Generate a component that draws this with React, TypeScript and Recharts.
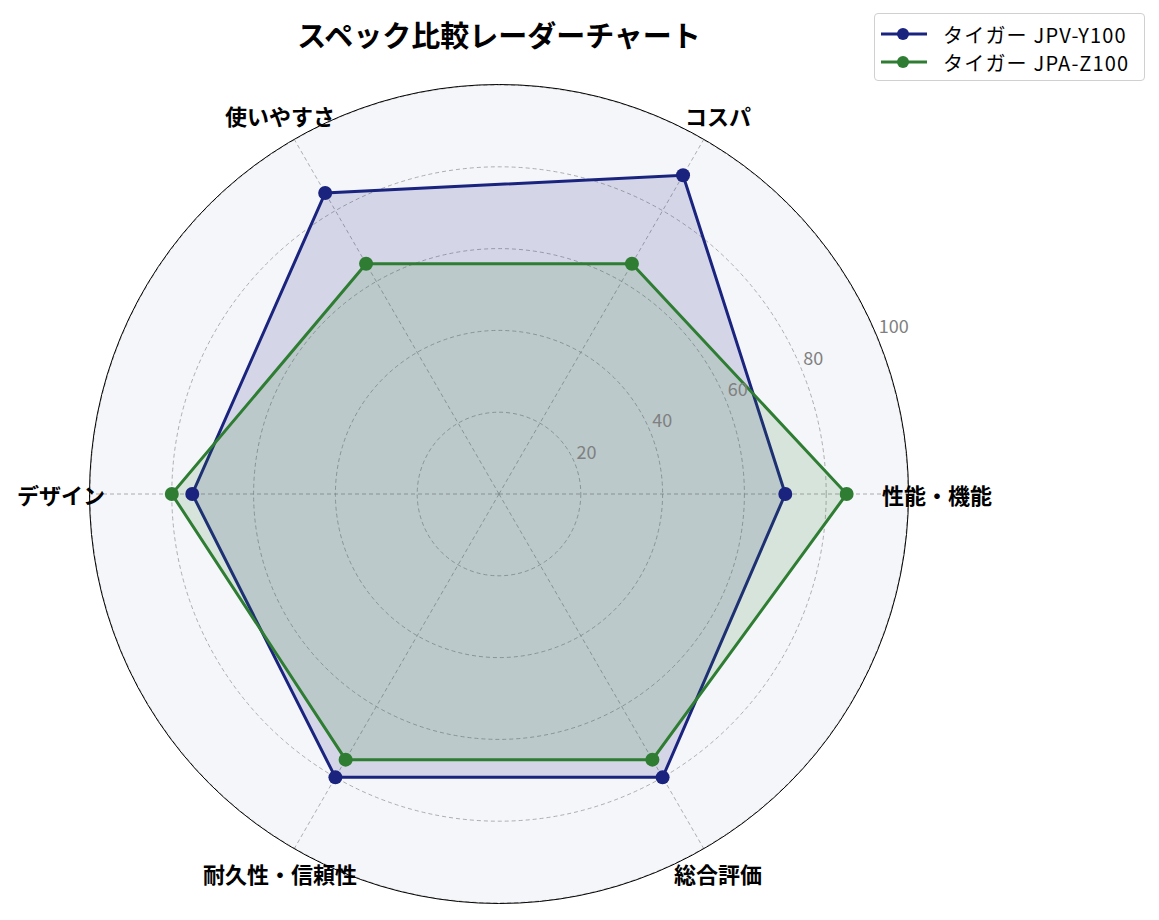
import React from 'react';
import { RadarChart, Radar, PolarGrid, PolarAngleAxis, PolarRadiusAxis, Legend } from 'recharts';

const categories = ['性能・機能', 'コスパ', '使いやすさ', 'デザイン', '耐久性・信頼性', '総合評価'];
const seriesNames = ['タイガー JPV-Y100', 'タイガー JPA-Z100'];
const seriesColors = ['#1a237e', '#2e7d32'];
const jpvValues = [70, 90, 85, 75, 80, 80];
const jpaValues = [85, 65, 65, 80, 75, 75];
const radiusTicks = [0, 20, 40, 60, 80, 100];

// counter-clockwise from the right: walk the list clockwise instead
const drawOrder = [0, 5, 4, 3, 2, 1];
const data = drawOrder.map((i) => ({
  subject: categories[i],
  jpv: jpvValues[i],
  jpa: jpaValues[i],
}));

const W = 1159;
const H = 920;
const CX = 499;
const CY = 494;
const R = 409;
const FONT = '"Noto Sans CJK JP", "Noto Sans", sans-serif';

const AngleTick = (props: any) => {
  const { x, y, payload } = props;
  return (
    <text x={x} y={y} textAnchor="middle" dominantBaseline="central" fontSize={22} fontWeight={700} fill="#000" fontFamily={FONT}>
      {payload.value}
    </text>
  );
};

const RadiusTick = (props: any) => {
  const { x, y, payload } = props;
  if (payload.value === 0) return null;
  return (
    <text x={x + 2} y={y - 4} textAnchor="start" fontSize={18} fill="#808080" fontFamily={FONT}>
      {payload.value}
    </text>
  );
};

const LegendBox = () => (
  <div
    style={{
      width: 271,
      height: 68,
      boxSizing: 'border-box',
      border: '1px solid #d0d0d0',
      borderRadius: 4,
      background: 'rgba(255,255,255,0.8)',
      padding: '6px 0 0 6px',
      fontFamily: FONT,
    }}
  >
    {seriesNames.map((name, i) => (
      <div key={name} style={{ display: 'flex', alignItems: 'center', height: 28 }}>
        <svg width={46} height={16} style={{ marginRight: 16 }}>
          <line x1={0} y1={8} x2={46} y2={8} stroke={seriesColors[i]} strokeWidth={3} />
          <circle cx={22} cy={8} r={6} fill={seriesColors[i]} />
        </svg>
        <span style={{ fontSize: 20, color: '#000', letterSpacing: 1.2, whiteSpace: 'nowrap' }}>{name}</span>
      </div>
    ))}
  </div>
);

export default function App() {
  return (
    <div style={{ position: 'absolute', left: 0, top: 0, width: W, height: H, background: '#fff', fontFamily: FONT }}>
      <div
        style={{
          position: 'absolute',
          left: CX - R,
          top: CY - R,
          width: 2 * R,
          height: 2 * R,
          borderRadius: '50%',
          background: '#f5f6fa',
          zIndex: 0,
        }}
      />
      <div style={{ position: 'absolute', left: 0, top: 0, zIndex: 1 }}>
        <RadarChart width={W} height={H} data={data} cx={CX} cy={CY} outerRadius={R} startAngle={0} endAngle={-360}>
          <PolarGrid gridType="circle" stroke="#9a9a9a" strokeDasharray="4 3" strokeWidth={0.8} />
          <PolarAngleAxis dataKey="subject" tick={<AngleTick />} tickLine={false} tickSize={29} axisLine={false} />
          <PolarRadiusAxis
            angle={22.5}
            domain={[0, 100]}
            ticks={radiusTicks as any}
            tickCount={6}
            tick={<RadiusTick />}
            axisLine={false}
            tickLine={false}
          />
          <Radar
            name={seriesNames[0]}
            dataKey="jpv"
            stroke={seriesColors[0]}
            strokeWidth={3}
            fill={seriesColors[0]}
            fillOpacity={0.15}
            dot={{ r: 7, fill: seriesColors[0], fillOpacity: 1, strokeWidth: 0 }}
            isAnimationActive={false}
          />
          <Radar
            name={seriesNames[1]}
            dataKey="jpa"
            stroke={seriesColors[1]}
            strokeWidth={3}
            fill={seriesColors[1]}
            fillOpacity={0.15}
            dot={{ r: 7, fill: seriesColors[1], fillOpacity: 1, strokeWidth: 0 }}
            isAnimationActive={false}
          />
          <Legend content={<LegendBox />} wrapperStyle={{ position: 'absolute', left: 874, top: 13, width: 271 }} />
        </RadarChart>
      </div>
      <div
        style={{
          position: 'absolute',
          left: CX - R - 0.75,
          top: CY - R - 0.75,
          width: 2 * R + 1.5,
          height: 2 * R + 1.5,
          boxSizing: 'border-box',
          borderRadius: '50%',
          border: '1.5px solid #000',
          pointerEvents: 'none',
          zIndex: 2,
        }}
      />
      <div
        style={{
          position: 'absolute',
          left: 0,
          width: 2 * CX,
          top: 14,
          textAlign: 'center',
          fontSize: 29,
          fontWeight: 700,
          color: '#000',
          zIndex: 3,
          lineHeight: '40px',
        }}
      >
        スペック比較レーダーチャート
      </div>
    </div>
  );
}
